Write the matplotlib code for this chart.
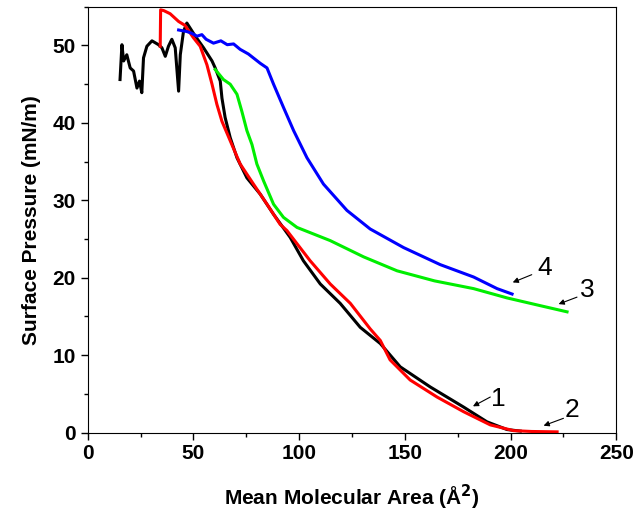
import matplotlib
matplotlib.use('Agg')
import matplotlib.pyplot as plt
from matplotlib.ticker import MultipleLocator

plt.rcParams['font.family'] = ['Liberation Sans', 'DejaVu Sans']
plt.rcParams['font.weight'] = 'bold'

# Curve 1 (black)
x1 = [15.3, 16.2, 17.0, 18.5, 20.1, 21.7, 23.3, 24.5, 25.6, 26.4, 28.0, 30.4, 33.5, 35.1,
      36.7, 38.2, 39.8, 41.4, 43.0, 43.8, 45.3, 46.9, 50.9, 54.8, 58.8, 60.3, 62.7, 63.5,
      65.0, 67.4, 70.6, 75.3, 81.6, 87.9, 95.8, 102.0, 110.0, 119.4, 128.9, 138.4, 147.8,
      162.0, 177.8, 188.8, 198.3, 204.6]
y1 = [45.6, 50.1, 48.0, 48.8, 47.1, 46.7, 44.5, 45.4, 43.9, 48.4, 49.9, 50.6, 50.1, 49.7,
      48.6, 49.9, 50.8, 49.7, 44.1, 48.8, 51.8, 52.9, 51.2, 49.7, 48.0, 47.1, 45.4, 43.2,
      40.7, 38.1, 35.5, 32.9, 30.8, 28.2, 25.2, 22.2, 19.2, 16.7, 13.6, 11.5, 8.5,
      5.9, 3.3, 1.4, 0.4, 0.2]

# Curve 2 (red)
x2 = [34.3, 34.5, 36.0, 39.0, 43.0, 46.0, 50.0, 53.2, 56.4, 58.8, 61.1, 63.5, 67.4, 72.1,
      78.4, 84.8, 91.0, 94.2, 105.2, 114.7, 124.2, 133.6, 138.4, 143.0, 152.5, 165.2,
      177.8, 190.4, 201.4, 210.0, 222.0]
y2 = [49.9, 54.6, 54.5, 54.1, 53.1, 52.6, 51.0, 49.9, 47.5, 45.0, 42.4, 40.2, 37.7, 34.7,
      32.1, 29.5, 26.9, 26.1, 22.2, 19.2, 16.7, 13.4, 11.9, 9.4, 6.8, 4.6,
      2.7, 1.0, 0.26, 0.15, 0.1]

# Curve 3 (green)
x3 = [60.3, 64.2, 67.4, 70.6, 72.9, 75.3, 77.7, 80.0, 83.2, 87.9, 92.6, 99.0, 114.7,
      130.5, 146.3, 164.0, 182.5, 198.3, 214.0, 226.7]
y3 = [46.9, 45.6, 45.0, 43.7, 41.5, 39.0, 37.2, 34.7, 32.5, 29.5, 27.8, 26.5, 24.8,
      22.7, 20.9, 19.6, 18.6, 17.4, 16.4, 15.6]

# Curve 4 (blue)
x4 = [43.0, 46.9, 49.0, 51.7, 54.0, 56.0, 59.5, 63.0, 66.0, 69.0, 72.1, 76.0, 81.6, 84.8,
      87.9, 92.6, 97.4, 103.7, 111.5, 122.6, 133.6, 149.4, 166.7, 182.5, 193.6, 200.7]
y4 = [52.0, 51.8, 51.6, 51.2, 51.4, 50.8, 50.3, 50.6, 50.1, 50.2, 49.5, 48.9, 47.7, 47.1,
      45.0, 42.0, 39.0, 35.5, 32.1, 28.7, 26.3, 23.9, 21.7, 20.1, 18.6, 17.9]

# curve labels: text, text position (left edge), arrow start, arrow tip
labels = [('1', (190.8, 4.4), (190.4, 4.6), (182.2, 3.4)),
          ('2', (225.4, 2.9), (225.0, 1.85), (215.6, 0.9)),
          ('3', (232.6, 18.4), (231.4, 17.5), (222.7, 16.6)),
          ('4', (212.8, 21.2), (210.0, 20.4), (201.0, 19.4))]

fig = plt.figure(figsize=(6.4, 5.2), dpi=100)
ax = fig.add_axes([0.137, 0.168, 0.826, 0.819])

ax.plot(x1, y1, color='black', lw=2.2)
ax.plot(x2, y2, color='#ff0000', lw=2.2)
ax.plot(x3, y3, color='#00ee00', lw=2.2)
ax.plot(x4, y4, color='#0000ff', lw=2.2)

for txt, pos, start, tip in labels:
    ax.annotate('', xy=tip, xytext=start,
                arrowprops=dict(arrowstyle='-|>', color='black', lw=0.8,
                                mutation_scale=8, shrinkA=0, shrinkB=0))
    ax.text(pos[0], pos[1], txt, fontsize=19, fontweight='normal',
            ha='left', va='center')

ax.set_xlim(0, 250)
ax.set_ylim(0, 55)
ax.xaxis.set_major_locator(MultipleLocator(50))
ax.xaxis.set_minor_locator(MultipleLocator(25))
ax.yaxis.set_major_locator(MultipleLocator(10))
ax.yaxis.set_minor_locator(MultipleLocator(5))
ax.tick_params(which='major', direction='out', length=5, width=1, labelsize=15)
ax.tick_params(which='minor', direction='out', length=3, width=1)
for lab in ax.get_xticklabels() + ax.get_yticklabels():
    lab.set_fontweight('bold')

ax.set_xlabel(r'Mean Molecular Area (Å$^\mathbf{2}$)', fontsize=15, fontweight='bold', labelpad=14)
ax.set_ylabel('Surface Pressure (mN/m)', fontsize=15, fontweight='bold', labelpad=8)

plt.savefig('out.png', dpi=100)
